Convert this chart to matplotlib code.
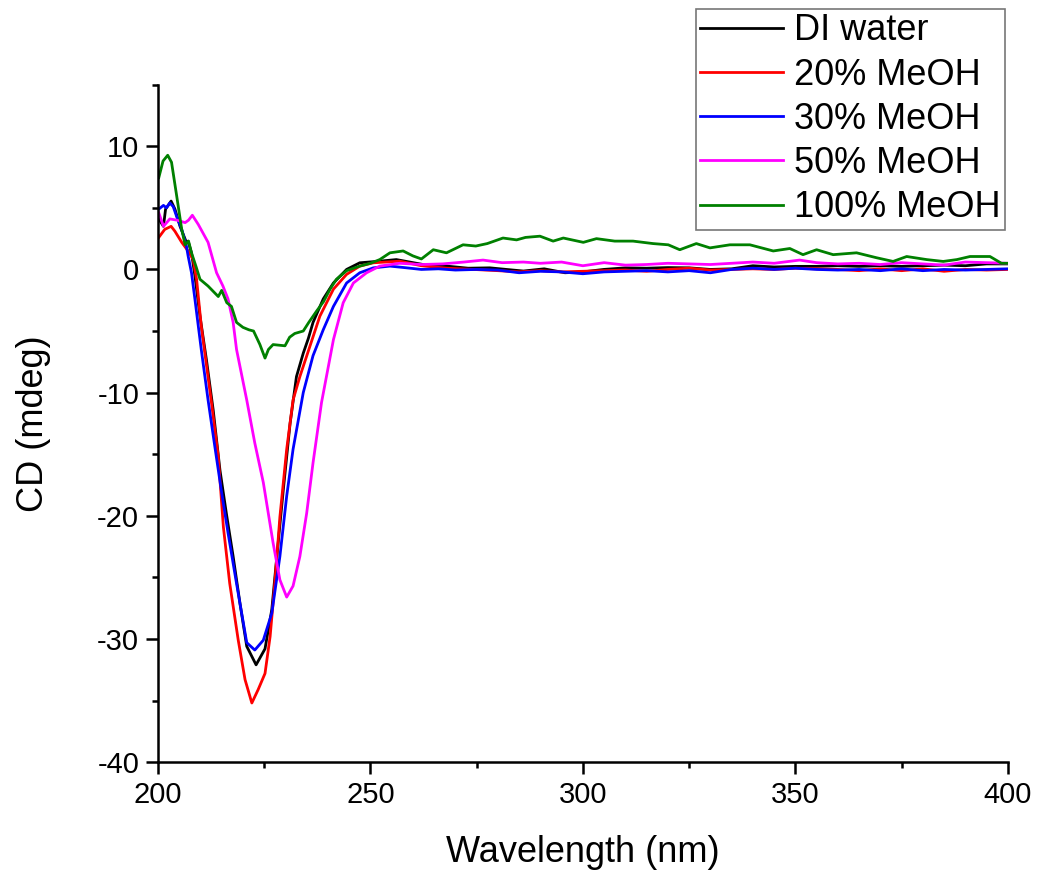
import matplotlib
matplotlib.use('Agg')
import matplotlib.pyplot as plt
from matplotlib.ticker import MultipleLocator

plt.rcParams['font.family'] = ['Liberation Sans', 'DejaVu Sans']
plt.rcParams['axes.unicode_minus'] = False

# DI water
wl_water = [200.2, 201.3, 201.8, 203.1, 204.0, 205.2, 206.7, 207.1, 207.9, 208.7, 209.9, 211.4, 213.0,
            214.6, 216.1, 217.7, 219.3, 220.9, 223.1, 225.2, 226.8, 227.9, 229.5, 231.1, 232.6, 234.2,
            235.4, 236.5, 238.9, 241.3, 244.4, 247.5, 252.2, 256.1, 262.4, 268, 273, 278.1, 282, 286,
            290.9, 295.8, 300, 304.9, 310, 315, 320, 325, 330, 335, 340, 345, 350, 355, 360, 365, 370,
            375, 380, 385, 390, 395, 400]
cd_water = [4.1, 3.5, 4.9, 5.55, 4.9, 3.5, 2.2, 2.3, 1.35, -0.5, -3.8, -7.3, -11.4,
            -16.3, -19.8, -23.3, -27.1, -30.6, -32.1, -30.8, -27.6, -23.6, -17.9, -12.5, -8.7, -6.8,
            -5.6, -4.3, -2.4, -1.1, 0.0, 0.54, 0.67, 0.8, 0.4, 0.27, 0.1, 0.13, 0.0, -0.13,
            0.05, -0.27, -0.2, 0.0, 0.13, 0.1, 0.15, 0.13, 0.0, 0.05, 0.3, 0.2, 0.25, 0.25, 0.3, 0.25, 0.3,
            0.25, 0.3, 0.35, 0.3, 0.45, 0.45]

# 20% MeOH
wl_20 = [200.2, 201.6, 203.1, 204.0, 205.6, 207.1, 208.3, 209.1, 210.2, 212.6, 214.2, 215.4, 216.9,
         218.9, 220.5, 222.1, 223.6, 225.2, 226.4, 227.5, 228.7, 230.3, 231.8, 233.4, 235.8, 238.1,
         241.3, 244.4, 247.5, 250.7, 256.9, 262, 268, 274.2, 280, 285, 290, 295, 300, 305, 310, 315,
         320, 325, 330, 335, 340, 345, 350, 355, 360, 365, 370, 375, 380, 385, 390, 395, 400]
cd_20 = [2.6, 3.25, 3.5, 3.1, 2.2, 1.5, 0.8, -0.8, -4.6, -10.8, -15.2, -20.9, -25.5,
         -30.1, -33.3, -35.2, -34.1, -32.8, -29.8, -25.5, -20.1, -14.6, -10.6, -8.7, -6.2, -3.8,
         -1.6, -0.4, 0.27, 0.54, 0.67, 0.3, 0.1, 0.0, -0.1, -0.2, -0.1, -0.2, -0.15, -0.1, -0.05, -0.15,
         0.0, 0.1, -0.05, 0.0, 0.05, 0.0, 0.1, 0.05, 0.0, -0.1, 0.05, -0.1, 0.05, -0.15, 0.0, -0.05, 0.0]

# 30% MeOH
wl_30 = [200.2, 201.3, 202.0, 202.8, 203.6, 204.4, 205.6, 206.7, 207.1, 207.9, 208.7, 209.5, 210.2,
         211.8, 213.4, 214.9, 216.5, 218.5, 220.9, 222.8, 224.8, 226.8, 228.7, 230.3, 231.8, 234.2,
         236.5, 238.9, 241.3, 244.4, 247.5, 250.7, 254.6, 258, 262, 266, 270, 275, 280, 285, 290, 295,
         300, 305, 310, 315, 320, 325, 330, 335, 340, 345, 350, 355, 360, 365, 370, 375, 380, 385,
         390, 395, 400]
cd_30 = [4.9, 5.2, 5.0, 5.4, 5.1, 4.3, 3.25, 1.9, 1.1, -0.27, -2.4, -4.6, -6.5,
         -10.6, -14.4, -17.9, -21.4, -25.5, -30.3, -30.9, -30.1, -27.9, -23.3, -18.4, -14.6, -10.0,
         -7.0, -4.9, -3.0, -1.1, -0.27, 0.13, 0.27, 0.15, 0.0, 0.05, -0.05, 0.0, -0.05, -0.27, -0.15, -0.2,
         -0.35, -0.2, -0.15, -0.1, -0.2, -0.1, -0.27, 0.0, 0.1, 0.0, 0.1, 0.0, -0.05, 0.0, -0.1, 0.05, -0.1, 0.0,
         -0.05, 0.0, 0.05]

# 50% MeOH
wl_50 = [200.2, 201.3, 202.8, 204.5, 206.4, 207.2, 208.1, 209.5, 211.8, 213.8, 215.3, 216.5, 217.7,
         218.5, 220.9, 222.8, 224.8, 227.1, 228.7, 230.3, 231.8, 233.4, 235.0, 236.5, 238.5, 241.3,
         243.6, 246.0, 249.1, 252.2, 256.9, 262, 267, 272, 276.5, 281, 286, 290, 295, 300, 305, 310,
         315, 320, 325, 330, 335, 340, 345, 351, 355, 360, 365, 370, 375, 380, 385, 390, 395, 400]
cd_50 = [4.6, 3.5, 4.1, 4.0, 3.8, 4.0, 4.4, 3.65, 2.2, -0.27, -1.35, -2.4, -4.3,
         -6.5, -10.6, -14.1, -17.3, -22.2, -25.2, -26.6, -25.7, -23.3, -19.8, -15.7, -10.8, -5.7,
         -2.7, -1.1, -0.27, 0.27, 0.5, 0.4, 0.45, 0.6, 0.76, 0.55, 0.6, 0.5, 0.6, 0.3, 0.55, 0.35,
         0.4, 0.5, 0.45, 0.4, 0.5, 0.6, 0.5, 0.76, 0.55, 0.45, 0.5, 0.4, 0.55, 0.45, 0.35, 0.6, 0.55, 0.5]

# 100% MeOH
wl_100 = [200.2, 201.2, 202.3, 203.2, 204.4, 205.6, 206.4, 207.2, 207.9, 209.0, 209.9, 211.8, 214.2,
          215.0, 216.2, 217.3, 218.5, 220.0, 221.4, 222.5, 224.0, 225.2, 226.0, 227.1, 229.9, 231.0,
          232.2, 234.2, 235.5, 237.3, 239.0, 240.5, 242.0, 244.4, 247.5, 250.0, 252.2, 254.6, 257.7,
          260, 262.0, 264.8, 267.9, 271.8, 274.8, 277.5, 281.2, 284.4, 286.5, 289.9, 293.0, 295.4,
          300.1, 303.2, 307.5, 311.8, 316.5, 320.1, 322.8, 326.7, 329.9, 334.6, 339.3, 344.8, 348.7,
          351.8, 355, 358.9, 364.4, 369.1, 373, 376.2, 380.9, 384.8, 388, 391.1, 395.8, 398.5, 400]
cd_100 = [7.45, 8.8, 9.27, 8.7, 6.0, 3.25, 2.0, 2.3, 1.35, 0.2, -0.8, -1.35, -2.2,
          -1.7, -2.7, -3.0, -4.3, -4.7, -4.9, -5.0, -6.1, -7.2, -6.5, -6.1, -6.2, -5.5,
          -5.2, -5.0, -4.3, -3.4, -2.6, -1.6, -0.8, -0.1, 0.27, 0.5, 0.8, 1.35, 1.5,
          1.1, 0.85, 1.6, 1.35, 2.0, 1.9, 2.1, 2.55, 2.4, 2.6, 2.7, 2.3, 2.55,
          2.2, 2.5, 2.3, 2.3, 2.1, 2.0, 1.6, 2.1, 1.75, 2.0, 2.0, 1.5, 1.7,
          1.2, 1.6, 1.2, 1.35, 0.95, 0.65, 1.05, 0.8, 0.65, 0.8, 1.05, 1.05, 0.5, 0.5]

fig = plt.figure(figsize=(10.39, 8.73), dpi=100)
ax = fig.add_axes([0.152, 0.127, 0.818, 0.776])

ax.plot(wl_water, cd_water, color='black', lw=2.0, label='DI water')
ax.plot(wl_20, cd_20, color='#ff0000', lw=2.0, label='20% MeOH')
ax.plot(wl_30, cd_30, color='#0000ff', lw=2.0, label='30% MeOH')
ax.plot(wl_50, cd_50, color='#ff00ff', lw=2.0, label='50% MeOH')
ax.plot(wl_100, cd_100, color='#008000', lw=2.0, label='100% MeOH')

ax.set_xlim(200, 400)
ax.set_ylim(-40, 15)
ax.xaxis.set_major_locator(MultipleLocator(50))
ax.xaxis.set_minor_locator(MultipleLocator(25))
ax.yaxis.set_major_locator(MultipleLocator(10))
ax.yaxis.set_minor_locator(MultipleLocator(5))

ax.spines['top'].set_visible(False)
ax.spines['right'].set_visible(False)
ax.spines['left'].set_linewidth(1.8)
ax.spines['bottom'].set_linewidth(1.8)
ax.tick_params(which='major', direction='out', length=8.5, width=1.8, labelsize=21, pad=5)
ax.tick_params(which='minor', direction='out', length=4.5, width=1.8)

ax.set_xlabel('Wavelength (nm)', fontsize=26, va='baseline')
ax.set_ylabel('CD (mdeg)', fontsize=26, va='center')
ax.xaxis.set_label_coords(0.5, -0.1477)
ax.yaxis.set_label_coords(-0.146, 0.5)

leg = ax.legend(loc='upper right', bbox_to_anchor=(1005 / 1039, 1 - 9 / 873),
                bbox_transform=fig.transFigure, fontsize=26, frameon=True, fancybox=False,
                handlelength=2.3, handletextpad=0.3, labelspacing=0.255, borderpad=0.12,
                borderaxespad=0)
leg.get_frame().set_edgecolor('#555555')
leg.get_frame().set_linewidth(1.2)

fig.savefig('out.png', dpi=100)
